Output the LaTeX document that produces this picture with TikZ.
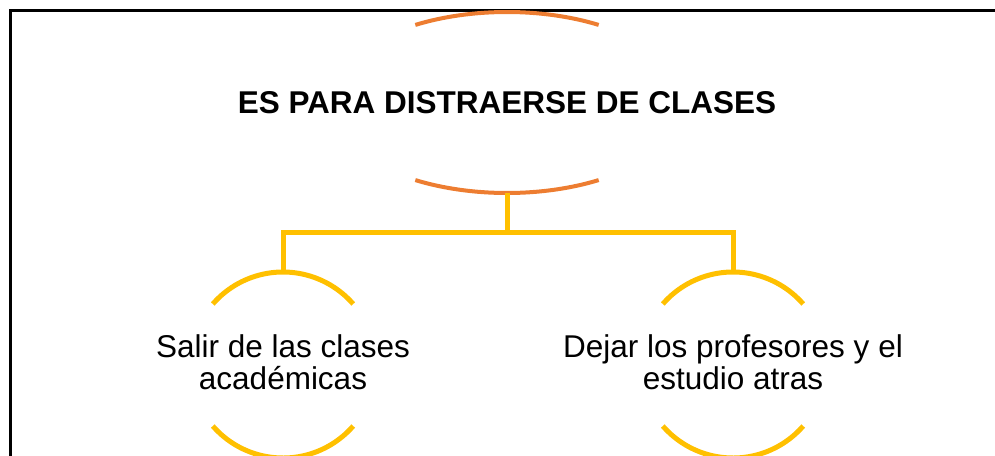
\documentclass[tikz,border=0pt]{standalone}
\usepackage{fontspec}
\setmainfont{Liberation Sans}
\definecolor{naranja}{HTML}{ED7D31}
\definecolor{amarillo}{HTML}{FFC000}
\tikzset{
	titulo/.style={inner sep=0pt,font=\fontsize{31.5}{31.5}\selectfont\bfseries},
	hijo/.style={inner sep=0pt,align=center,font=\fontsize{31.5}{31.5}\selectfont},
	arcoraiz/.style={naranja,line width=4pt},
	arcohijo/.style={amarillo,line width=5pt},
	rama/.style={amarillo,line width=5pt}
}
\begin{document}
\begin{tikzpicture}[x=1pt,y=-1pt]
			\useasboundingbox (0,0) rectangle (995,455);
			\clip (0,0) rectangle (995,455);
			\draw[line width=2.3pt] (10.5,470) -- (10.5,10.5) -- (1010,10.5);

			\node[titulo] (raiz) at (507,102.5) {ES PARA DISTRAERSE DE CLASES};
			\coordinate (cizq) at (283,365);
			\coordinate (cder) at (733,365);
			\node[hijo,yshift=3pt] (izq) at (cizq) {Salir de las clases\\acad\'emicas};
			\node[hijo,yshift=3pt] (der) at (cder) {Dejar los profesores y el\\estudio atras};

			\draw[arcoraiz] (raiz) ++(239:178 and 90.5) arc[start angle=239,end angle=301,x radius=178,y radius=90.5];
			\draw[arcoraiz] (raiz) ++(59:178 and 90.5) arc[start angle=59,end angle=121,x radius=178,y radius=90.5];
			\draw[arcohijo] (cizq) ++(221:93) arc[start angle=221,end angle=319,radius=93];
			\draw[arcohijo] (cizq) ++(41:93) arc[start angle=41,end angle=139,radius=93];
			\draw[arcohijo] (cder) ++(221:93) arc[start angle=221,end angle=319,radius=93];
			\draw[arcohijo] (cder) ++(41:93) arc[start angle=41,end angle=139,radius=93];

			\coordinate (raiz-s) at (507,193);
			\coordinate (izq-n) at (283,272);
			\coordinate (der-n) at (733,272);
			\draw[rama] (raiz-s) -- ++(0,39.5) -| (izq-n);
			\draw[rama] (raiz-s) -- ++(0,39.5) -| (der-n);
\end{tikzpicture}
\end{document}
